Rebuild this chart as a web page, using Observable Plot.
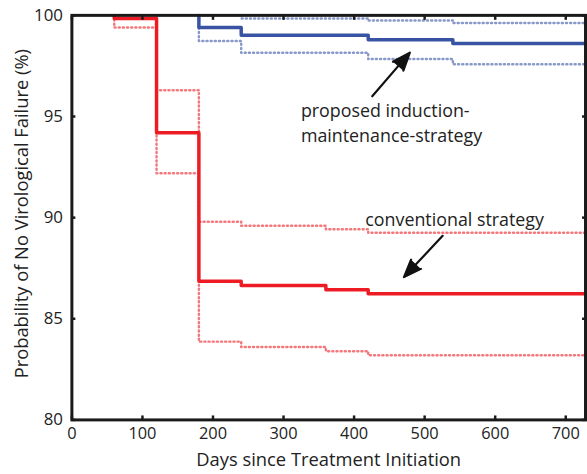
<!DOCTYPE html>
<html>
<head>
<meta charset="utf-8">
<script src="https://cdn.jsdelivr.net/npm/d3@7"></script>
<script src="https://cdn.jsdelivr.net/npm/@observablehq/plot@0.6"></script>
<style>
  html, body { margin: 0; padding: 0; background: #fff; overflow: hidden; }
  #chart svg { display: block; }
</style>
</head>
<body>
<div id="chart"></div>
<script>
// Conventional strategy (red)
const convDays  = [60, 60, 120, 180, 240, 360, 420, 728];
const convEst   = [100, 99.84, 94.2, 86.85, 86.65, 86.44, 86.24, 86.24];
const convUpper = [100, 100, 96.3, 89.8, 89.6, 89.43, 89.25, 89.25];
const convLower = [100, 99.4, 92.2, 83.87, 83.6, 83.4, 83.2, 83.2];
// Proposed induction-maintenance strategy (blue)
const propDays  = [180, 180, 240, 420, 540, 728];
const propEst   = [100, 99.4, 99.02, 98.8, 98.61, 98.61];
const propUpper = [100, 100, 99.85, 99.75, 99.62, 99.62];
const propLower = [100, 98.73, 98.15, 97.84, 97.58, 97.58];
// Tick values
const xTicks = [0, 100, 200, 300, 400, 500, 600, 700];
const yTicks = [80, 85, 90, 95, 100];
// Annotations
const labelTexts = ["proposed induction-", "maintenance-strategy", "conventional strategy"];
const labelX = [324.6, 324.6, 415.9];
const labelY = [95.27, 94.03, 89.85];
const arrowX1 = [425.7, 525.5];
const arrowY1 = [96.0, 89.1];
const arrowX2 = [479.0, 470.7];
const arrowY2 = [98.16, 87.06];

const red = "#ed1c24", blue = "#3953a4";
const mk = (days, vals) => days.map((d, i) => ({d, v: vals[i]}));
const labels = labelTexts.map((t, i) => ({t, x: labelX[i], y: labelY[i]}));
const arrows = arrowX1.map((x1, i) => ({x1, y1: arrowY1[i], x2: arrowX2[i], y2: arrowY2[i]}));

const font = "'Open Sans', 'Noto Sans', sans-serif";
const dotted = {curve: "step-after", strokeWidth: 2.5, strokeDasharray: "1,3.2", strokeOpacity: 0.6};
const blank = () => "";
const tickStyle = {tickSize: -4, strokeWidth: 2.5, stroke: "#1a1a1a", tickFormat: blank, label: null};

const chart = Plot.plot({
  width: 592, height: 474,
  marginLeft: 72, marginRight: 2, marginTop: 15, marginBottom: 51,
  style: {fontFamily: font, fontSize: "16px", color: "#222", background: "#fff"},
  x: {domain: [0, 728], ticks: xTicks, label: null},
  y: {domain: [80, 100], ticks: yTicks, label: null},
  marks: [
    Plot.line(mk(convDays, convUpper), {x: "d", y: "v", stroke: red, ...dotted}),
    Plot.line(mk(convDays, convLower), {x: "d", y: "v", stroke: red, ...dotted}),
    Plot.line(mk(propDays, propUpper), {x: "d", y: "v", stroke: blue, ...dotted}),
    Plot.line(mk(propDays, propLower), {x: "d", y: "v", stroke: blue, ...dotted}),
    Plot.line(mk(convDays, convEst), {x: "d", y: "v", stroke: red, strokeWidth: 3.5, curve: "step-after"}),
    Plot.line(mk(propDays, propEst), {x: "d", y: "v", stroke: blue, strokeWidth: 3.5, curve: "step-after"}),
    Plot.frame({stroke: "#1a1a1a", strokeWidth: 3}),
    Plot.axisX({ticks: xTicks, tickSize: 0, tickPadding: 8, label: null, fontSize: 16.5}),
    Plot.axisY({ticks: yTicks, tickSize: 0, tickPadding: 9, label: null, fontSize: 17}),
    Plot.axisX({ticks: xTicks, anchor: "bottom", ...tickStyle}),
    Plot.axisX({ticks: xTicks, anchor: "top", ...tickStyle}),
    Plot.axisY({ticks: yTicks, anchor: "left", ...tickStyle}),
    Plot.axisY({ticks: yTicks, anchor: "right", ...tickStyle}),
    Plot.text(["Days since Treatment Initiation"], {frameAnchor: "bottom", dy: 46, fontSize: 18.5, fill: "#222"}),
    Plot.text(["Probability of No Virological Failure (%)"], {frameAnchor: "left", textAnchor: "middle", rotate: -90, dx: -50, dy: -4, fontSize: 18.5, fill: "#222"}),
    Plot.text(labels, {x: "x", y: "y", text: "t", textAnchor: "start", fontSize: 18, fill: "#222"}),
    Plot.arrow(arrows, {x1: "x1", y1: "y1", x2: "x2", y2: "y2", stroke: "#111", fill: "#111", strokeWidth: 2.2, headLength: 17, headAngle: 42})
  ]
});
document.getElementById("chart").appendChild(chart);
</script>
</body>
</html>
